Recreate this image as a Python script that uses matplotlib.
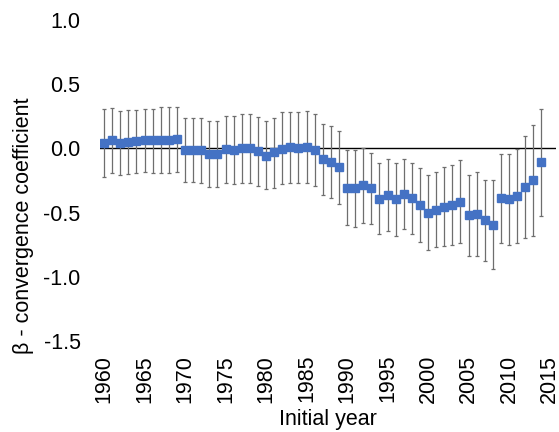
import matplotlib
matplotlib.use("Agg")
import matplotlib.pyplot as plt
import numpy as np

plt.rcParams['font.family'] = ['Liberation Sans', 'DejaVu Sans']
plt.rcParams['axes.unicode_minus'] = False

years = list(range(1960, 2015))
coefficient = [0.039, 0.062, 0.039, 0.046, 0.057, 0.064, 0.064, 0.064, 0.064, 0.072,
               -0.013, -0.013, -0.013, -0.044, -0.046, -0.008, -0.013, 0.0, 0.0, -0.023,
               -0.062, -0.031, -0.008, 0.008, 0.0, 0.008, -0.016, -0.085, -0.109, -0.147,
               -0.31, -0.31, -0.287, -0.31, -0.395, -0.364, -0.395, -0.357, -0.388, -0.442,
               -0.504, -0.481, -0.457, -0.442, -0.419, -0.519, -0.512, -0.558, -0.597, -0.388,
               -0.395, -0.372, -0.302, -0.248, -0.109]
ci_upper = [0.305, 0.315, 0.29, 0.30, 0.30, 0.31, 0.31, 0.32, 0.32, 0.32,
            0.24, 0.24, 0.24, 0.21, 0.21, 0.25, 0.25, 0.27, 0.27, 0.245,
            0.21, 0.24, 0.28, 0.28, 0.28, 0.29, 0.27, 0.19, 0.176, 0.132,
            -0.015, -0.01, 0.003, -0.034, -0.113, -0.085, -0.11, -0.085, -0.11, -0.155,
            -0.209, -0.186, -0.145, -0.129, -0.093, -0.209, -0.186, -0.243, -0.248, -0.041,
            -0.041, -0.008, 0.10, 0.186, 0.31]
ci_lower = [-0.22, -0.19, -0.21, -0.20, -0.19, -0.18, -0.19, -0.19, -0.19, -0.18,
            -0.26, -0.26, -0.27, -0.30, -0.30, -0.27, -0.28, -0.27, -0.27, -0.29,
            -0.32, -0.31, -0.28, -0.27, -0.27, -0.27, -0.29, -0.36, -0.385, -0.43,
            -0.60, -0.61, -0.58, -0.59, -0.67, -0.64, -0.68, -0.625, -0.667, -0.73,
            -0.79, -0.77, -0.76, -0.75, -0.74, -0.835, -0.84, -0.88, -0.94, -0.74,
            -0.75, -0.74, -0.70, -0.68, -0.53]
xticks = [1960, 1965, 1970, 1975, 1980, 1985, 1990, 1995, 2000, 2005, 2010, 2015]
yticks = [-1.5, -1.0, -0.5, 0.0, 0.5, 1.0]

c = np.array(coefficient)
yerr = [c - np.array(ci_lower), np.array(ci_upper) - c]

W, H = 559, 432
fig = plt.figure(figsize=(W / 100, H / 100), dpi=100)
ax = fig.add_axes([100 / W, 91 / H, 456 / W, 321 / H])

ax.axhline(0, color='black', lw=1.0, zorder=1)
ax.errorbar(years, coefficient, yerr=yerr, fmt='s', color='#4472C4', ms=5.2,
            ecolor='#6e6e6e', elinewidth=0.9, capsize=1.6, capthick=0.9, zorder=3)

ax.set_xlim(1959.5, 2015.8)
ax.set_ylim(-1.5, 1.0)
ax.set_xticks(xticks)
ax.set_xticklabels([str(t) for t in xticks], rotation=90, fontsize=15.5)
ax.set_yticks(yticks)
ax.set_yticklabels([f"{t:.1f}" for t in yticks], fontsize=15.5)
ax.tick_params(axis='both', length=0)
ax.tick_params(axis='x', pad=10)
ax.tick_params(axis='y', pad=14)
for s in ax.spines.values():
    s.set_visible(False)

fig.text(24 / W, 1 - 225.5 / H, "β - convergence coefficient", rotation=90,
         ha='center', va='center', fontsize=15.5)
fig.text(328 / W, 1 - 419 / H, "Initial year", ha='center', va='center', fontsize=15.5)

fig.savefig("out.png", dpi=100)
